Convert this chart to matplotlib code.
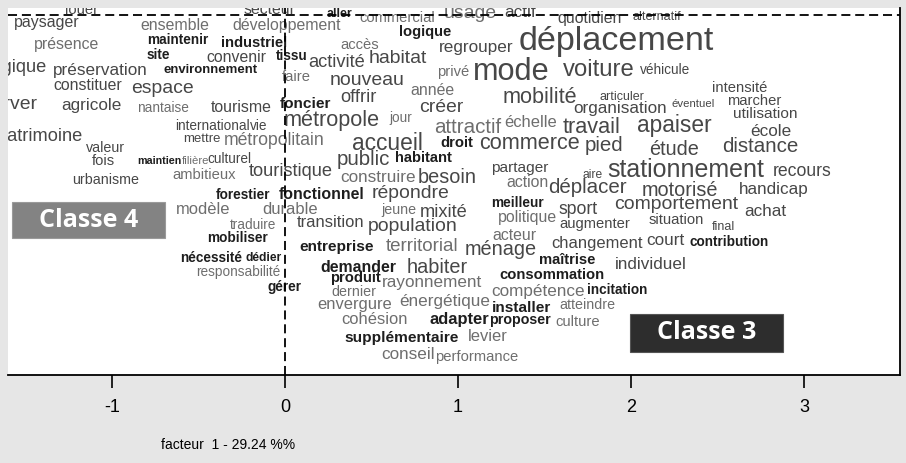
import matplotlib
matplotlib.use("Agg")
import matplotlib.pyplot as plt
from matplotlib import font_manager
from matplotlib.patches import Rectangle

# coordonnées des formes sur les facteurs 1 et 2, poids = taille du mot
mots = [
    "louer", "secteur", "aller", "commercial", "usage", "actif", "quotidien", "alternatif",
    "paysager", "ensemble", "développement", "logique", "regrouper", "déplacement",
    "présence", "maintenir", "industriel", "site", "convenir", "tissu", "accès", "habitat",
    "activité", "écologique", "préservation", "environnement", "faire", "nouveau", "privé",
    "mode", "voiture", "véhicule", "constituer", "espace", "intensité", "année", "offrir",
    "mobilité", "articuler", "organisation", "éventuel", "marcher", "utilisation",
    "préserver", "agricole", "nantaise", "tourisme", "foncier", "créer", "jour", "métropole",
    "international", "vie", "attractif", "échelle", "travail", "apaiser", "école",
    "patrimoine", "mettre", "métropolitain", "valeur", "accueil", "droit", "commerce",
    "pied", "étude", "distance", "fois", "maintien", "filière", "culturel", "public",
    "habitant", "partager", "stationnement", "aire", "recours", "touristique", "ambitieux",
    "urbanisme", "construire", "besoin", "action", "déplacer", "motorisé", "handicap",
    "forestier", "fonctionnel", "répondre", "meilleur", "comportement", "achat", "sport",
    "modèle", "durable", "jeune", "mixité", "politique", "augmenter", "situation", "final",
    "traduire", "transition", "population", "acteur", "changement", "court", "contribution",
    "mobiliser", "entreprise", "territorial", "ménage", "nécessité", "dédier", "maîtrise",
    "individuel", "responsabilité", "demander", "habiter", "consommation", "produit",
    "rayonnement", "gérer", "compétence", "incitation", "dernier", "énergétique",
    "envergure", "installer", "atteindre", "cohésion", "adapter", "proposer", "culture",
    "supplémentaire", "levier", "conseil", "performance",
]
facteur1 = [
    -1.173, -0.087, 0.318, 0.647, 1.069, 1.358, 1.763, 2.150,
    -1.376, -0.636, 0.012, 0.809, 1.104, 1.913,
    -1.260, -0.618, -0.179, -0.734, -0.283, 0.040, 0.434, 0.653,
    0.301, -1.636, -1.069, -0.428, 0.064, 0.474, 0.971,
    1.306, 1.815, 2.197, -1.139, -0.711, 2.630, 0.850, 0.422,
    1.474, 1.948, 1.936, 2.358, 2.711, 2.775,
    -1.665, -1.116, -0.705, -0.254, 0.121, 0.902, 0.671, 0.272,
    -0.422, -0.150, 1.058, 1.422, 1.775, 2.249, 2.809,
    -1.416, -0.480, -0.064, -1.040, 0.590, 0.994, 1.416,
    1.844, 2.249, 2.746, -1.052, -0.728, -0.515, -0.324, 0.451,
    0.798, 1.358, 2.318, 1.780, 2.988, 0.035, -0.468,
    -1.035, 0.538, 0.936, 1.399, 1.751, 2.283, 2.827,
    -0.243, 0.214, 0.728, 1.341, 2.260, 2.775, 1.694,
    -0.474, 0.029, 0.659, 0.919, 1.399, 1.792, 2.260, 2.532,
    -0.185, 0.266, 0.740, 1.324, 1.803, 2.197, 2.566,
    -0.272, 0.301, 0.792, 1.249, -0.425, -0.125, 1.630,
    2.116, -0.272, 0.422, 0.879, 1.543, 0.405,
    0.850, 0.000, 1.462, 1.919, 0.399, 0.925,
    0.405, 1.370, 1.746, 0.520, 1.006, 1.358, 1.694,
    0.676, 1.173, 0.711, 1.110,
]
facteur2 = [
    0.029, 0.029, 0.006, -0.017, 0.006, 0.012, -0.023, -0.012,
    -0.046, -0.058, -0.058, -0.098, -0.185, -0.156,
    -0.168, -0.145, -0.162, -0.231, -0.243, -0.237, -0.173, -0.249,
    -0.277, -0.306, -0.318, -0.318, -0.358, -0.376, -0.329,
    -0.329, -0.318, -0.318, -0.405, -0.422, -0.422, -0.434, -0.474,
    -0.474, -0.474, -0.538, -0.514, -0.497, -0.572,
    -0.520, -0.526, -0.538, -0.532, -0.514, -0.532, -0.595, -0.607,
    -0.642, -0.642, -0.653, -0.624, -0.653, -0.636, -0.671,
    -0.705, -0.717, -0.723, -0.769, -0.740, -0.740, -0.740,
    -0.757, -0.775, -0.763, -0.844, -0.844, -0.844, -0.832, -0.838,
    -0.827, -0.884, -0.896, -0.925, -0.902, -0.902, -0.925,
    -0.954, -0.942, -0.942, -0.971, -1.000, -1.017, -1.006,
    -1.040, -1.035, -1.029, -1.087, -1.098, -1.133, -1.127,
    -1.127, -1.127, -1.127, -1.139, -1.173, -1.208, -1.185, -1.225,
    -1.214, -1.202, -1.225, -1.272, -1.318, -1.301, -1.312,
    -1.289, -1.341, -1.341, -1.358, -1.405, -1.405, -1.416,
    -1.445, -1.486, -1.457, -1.462, -1.503, -1.520,
    -1.549, -1.572, -1.601, -1.590, -1.601, -1.659,
    -1.676, -1.694, -1.676, -1.763, -1.763, -1.763, -1.775,
    -1.867, -1.861, -1.965, -1.977,
]
poids = [
    13, 14, 11, 13, 17, 15, 14, 11,
    14, 14, 14, 13, 15, 30,
    14, 12, 13, 12, 14, 12, 13, 17,
    16, 16, 15, 11.5, 13, 17, 13,
    27, 21, 12, 14, 17, 13, 14, 16,
    19, 11, 15, 10, 13, 13.5,
    17, 15, 12, 14, 13.5, 17, 12, 19,
    12, 12, 18, 14.5, 19, 20, 15,
    16, 11.5, 15.5, 12.5, 20, 13, 19,
    18, 17.5, 18, 13, 9.5, 10, 12, 18,
    13, 13.5, 22, 10.5, 15.5, 16, 13,
    12.5, 15, 17.5, 14, 18, 17.5, 15,
    12, 14, 17, 12, 17, 15, 15.5,
    14.5, 14.5, 12.5, 16, 14, 13, 13, 11,
    12, 14.5, 17, 14, 14.5, 15, 12,
    12, 13.5, 16.5, 17.5, 12, 10.5, 13,
    15, 12, 14, 17.5, 13, 13,
    15, 12, 15, 12, 12.5, 15,
    14.5, 13.5, 12.5, 14.5, 14.5, 12.5, 13,
    13.5, 14.5, 15, 13,
]
# formes en gris foncé (gras) et en gris clair ; les autres en gris moyen
fonces = {
    "aller", "logique", "maintenir", "industriel", "site", "tissu", "environnement",
    "foncier", "droit", "maintien", "habitant", "forestier", "fonctionnel", "meilleur",
    "contribution", "mobiliser", "entreprise", "nécessité", "dédier", "maîtrise",
    "demander", "consommation", "produit", "gérer", "incitation", "installer", "adapter",
    "proposer", "supplémentaire",
}
clairs = {
    "commercial", "usage", "ensemble", "développement", "présence", "accès", "faire",
    "privé", "année", "nantaise", "jour", "attractif", "échelle", "métropolitain",
    "filière", "ambitieux", "construire", "action", "modèle", "durable", "jeune",
    "politique", "traduire", "acteur", "territorial", "responsabilité", "rayonnement",
    "compétence", "dernier", "énergétique", "envergure", "atteindre", "cohésion",
    "culture", "levier", "conseil", "performance",
}

noms = {f.name for f in font_manager.fontManager.ttflist}
if "Liberation Sans Narrow" in noms:
    famille, echelle = "Liberation Sans Narrow", 1.0
else:
    famille, echelle = "Liberation Sans", 0.82
plt.rcParams["font.family"] = [famille, "DejaVu Sans"]
plt.rcParams["lines.scale_dashes"] = False

fig = plt.figure(figsize=(9.06, 4.63), dpi=100, facecolor="#e6e6e6")
ax = fig.add_axes([8 / 906, 88 / 463, 892 / 906, 367 / 463])
ax.set_facecolor("white")
ax.set_xlim(-1.601, 3.555)
ax.set_ylim(-2.081, 0.0405)

for mot, x, y, p in zip(mots, facteur1, facteur2, poids):
    if mot in fonces:
        couleur, graisse = "#1e1e1e", "bold"
    elif mot in clairs:
        couleur, graisse = "#6e6e6e", "normal"
    else:
        couleur, graisse = "#474747", "normal"
    ax.text(x, y, mot, ha="center", va="center", fontsize=p * echelle,
            color=couleur, fontweight=graisse, clip_on=True, zorder=2)

ax.axvline(0, color="black", lw=1.3, dashes=(6.5, 3.5), zorder=3)
ax.axhline(0, color="black", lw=1.3, dashes=(6.5, 3.5), zorder=3)

for cote in ("left", "top"):
    ax.spines[cote].set_visible(False)
for cote in ("bottom", "right"):
    ax.spines[cote].set_linewidth(1.3)

ax.set_yticks([])
ax.set_xticks([-1, 0, 1, 2, 3])
ax.set_xticklabels(["-1", "0", "1", "2", "3"])
ax.tick_params(axis="x", direction="out", length=9, width=1.2, pad=8, labelsize=13)
ax.set_xlabel("facteur  1 - 29.24 %%", fontsize=10, va="center")
ax.xaxis.set_label_coords(0.2466, -0.1907)

# cartouches des classes
ax.add_patch(Rectangle((0.0045, 0.373), 0.1715, 0.098, transform=ax.transAxes,
                       facecolor="#838383", edgecolor="#9a9a9a", lw=0.8, zorder=4))
ax.text(0.0045 + 0.1715 / 2, 0.373 + 0.098 / 2, "Classe 4", transform=ax.transAxes,
        ha="center", va="center", color="white", fontsize=18,
        family=["Open Sans", "DejaVu Sans"], fontweight="bold", zorder=5)
ax.add_patch(Rectangle((0.6973, 0.0627), 0.1715, 0.1035, transform=ax.transAxes,
                       facecolor="#2d2d2d", edgecolor="#555555", lw=0.8, zorder=4))
ax.text(0.6973 + 0.1715 / 2, 0.0627 + 0.1035 / 2, "Classe 3", transform=ax.transAxes,
        ha="center", va="center", color="white", fontsize=18,
        family=["Open Sans", "DejaVu Sans"], fontweight="bold", zorder=5)

fig.savefig("out.png", dpi=100, facecolor=fig.get_facecolor())
